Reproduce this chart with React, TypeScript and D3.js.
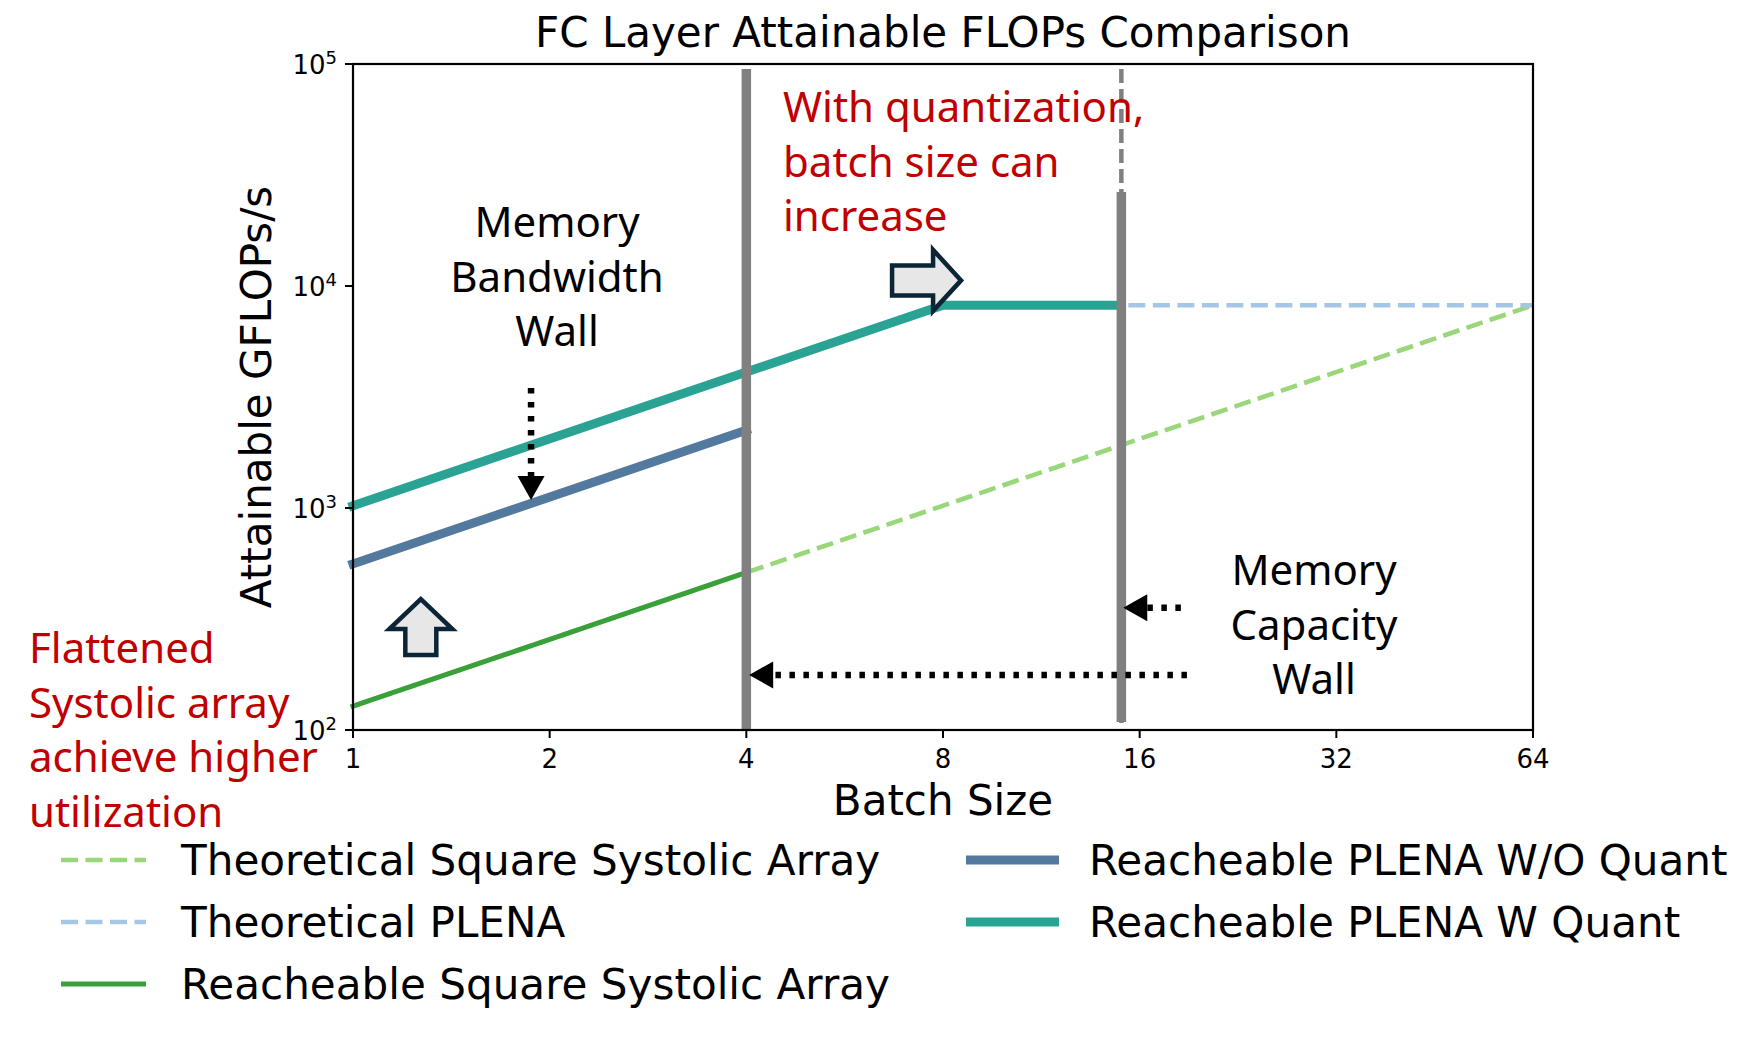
import * as d3 from 'd3';
import React, { useEffect, useRef } from 'react';

// axis ticks
const batchTicks = [1, 2, 4, 8, 16, 32, 64];
const flopTicks = [1e2, 1e3, 1e4, 1e5];

// series (batch size, attainable GFLOPs/s)
const theoSquareBatch = [1, 64];
const theoSquareFlops = [128, 8192];
const theoPlenaBatch = [1, 8, 64];
const theoPlenaFlops = [1024, 8192, 8192];
const reachSquareBatch = [1, 4];
const reachSquareFlops = [128, 512];
const plenaNoQuantBatch = [1, 4];
const plenaNoQuantFlops = [560, 2240];
const plenaQuantBatch = [1, 8, 15];
const plenaQuantFlops = [1024, 8192, 8192];

// memory walls
const wallBatch = [4, 15];
const wallSolidTop = [95000, 26500];
const wallDashedTop = [0, 95000];

// annotation arrows, data coords
const dottedArrows = [
  { from: [1.873, 3472], to: [1.873, 1087] },
  { from: [18.9, 177], to: [4.04, 177] },
  { from: [18.5, 355], to: [15.1, 355] },
];
const blockArrows = [
  { at: [7.55, 10600], dir: 'right' },
  { at: [1.27, 291], dir: 'up' },
];

const legendLabels = [
  'Theoretical Square Systolic Array',
  'Theoretical PLENA',
  'Reacheable Square Systolic Array',
  'Reacheable PLENA W/O Quant',
  'Reacheable PLENA W Quant',
];

const series = [
  { xs: theoSquareBatch, ys: theoSquareFlops, color: '#9ad67a', width: 4.6, dash: '17 7.5' },
  { xs: theoPlenaBatch, ys: theoPlenaFlops, color: '#a6c6e8', width: 4.6, dash: '17 7.5' },
  { xs: reachSquareBatch, ys: reachSquareFlops, color: '#3aa13a', width: 5, dash: null },
  { xs: plenaNoQuantBatch, ys: plenaNoQuantFlops, color: '#54799f', width: 9, dash: null },
  { xs: plenaQuantBatch, ys: plenaQuantFlops, color: '#2aa395', width: 9, dash: null },
];

const width = 1759;
const height = 1040;
const axisFont = '"DejaVu Sans", sans-serif';
const noteFont = '"Noto Sans", sans-serif';
const red = '#c00000';

export default function App() {
  const svgRef = useRef(null);

  useEffect(() => {
    const svg = d3.select(svgRef.current);
    svg.selectAll('*').remove();

    const left = 353, right = 1533, top = 64, bottom = 730;
    const x = d3.scaleLog().base(2).domain([1, 64]).range([left, right]);
    const y = d3.scaleLog().domain([1e2, 1e5]).range([bottom, top]);

    svg.append('rect').attr('width', width).attr('height', height).attr('fill', 'white');

    const plot = svg.append('g');
    const line = d3.line<number[]>().x(d => x(d[0])).y(d => y(d[1]));

    series.forEach(s => {
      plot.append('path')
        .attr('d', line(s.xs.map((v, i) => [v, s.ys[i]])))
        .attr('fill', 'none')
        .attr('stroke', s.color)
        .attr('stroke-width', s.width)
        .attr('stroke-dasharray', s.dash)
        .attr('stroke-linecap', s.dash ? 'butt' : 'square');
    });

    // walls
    wallBatch.forEach((b, i) => {
      if (wallDashedTop[i]) {
        plot.append('line')
          .attr('x1', x(b)).attr('x2', x(b))
          .attr('y1', y(wallDashedTop[i])).attr('y2', y(1e2))
          .attr('stroke', '#808080').attr('stroke-width', 4.5)
          .attr('stroke-dasharray', '14 6');
      }
      plot.append('line')
        .attr('x1', x(b)).attr('x2', x(b))
        .attr('y1', y(wallSolidTop[i])).attr('y2', i === 0 ? y(1e2) : y(1e2) - 8)
        .attr('stroke', '#808080').attr('stroke-width', 9.5);
    });

    // dotted arrows
    dottedArrows.forEach(a => {
      const x0 = x(a.from[0]), y0 = y(a.from[1]);
      const x1 = x(a.to[0]), y1 = y(a.to[1]);
      const ang = Math.atan2(y1 - y0, x1 - x0);
      const headLen = 24, headHalf = 13.5;
      const bx = x1 - headLen * Math.cos(ang), by = y1 - headLen * Math.sin(ang);
      plot.append('line')
        .attr('x1', x0).attr('y1', y0).attr('x2', bx).attr('y2', by)
        .attr('stroke', 'black').attr('stroke-width', 6.5)
        .attr('stroke-dasharray', '5.5 8.5');
      const px = -Math.sin(ang), py = Math.cos(ang);
      plot.append('path')
        .attr('d', `M${x1},${y1}L${bx + px * headHalf},${by + py * headHalf}L${bx - px * headHalf},${by - py * headHalf}Z`)
        .attr('fill', 'black');
    });

    // block arrows
    blockArrows.forEach(a => {
      const cx = x(a.at[0]), cy = y(a.at[1]);
      let pts: number[][];
      if (a.dir === 'right') {
        const L = 69, hl = 28, bh = 15, hh = 30.5;
        const x0 = cx - L / 2, xh = cx + L / 2 - hl, xt = cx + L / 2;
        pts = [[x0, cy - bh], [xh, cy - bh], [xh, cy - hh], [xt, cy], [xh, cy + hh], [xh, cy + bh], [x0, cy + bh]];
      } else {
        const L = 56, hl = 30, bw = 15.5, hw = 31.5;
        const y0 = cy + L / 2, yh = cy - L / 2 + hl, yt = cy - L / 2;
        pts = [[cx - bw, y0], [cx - bw, yh], [cx - hw, yh], [cx, yt], [cx + hw, yh], [cx + bw, yh], [cx + bw, y0]];
      }
      plot.append('path')
        .attr('d', 'M' + pts.map(p => p.join(',')).join('L') + 'Z')
        .attr('fill', '#e7e7e7')
        .attr('stroke', '#0c2536')
        .attr('stroke-width', 4.5)
        .attr('stroke-linejoin', 'miter');
    });

    // frame
    svg.append('rect')
      .attr('x', left).attr('y', top)
      .attr('width', right - left).attr('height', bottom - top)
      .attr('fill', 'none').attr('stroke', 'black').attr('stroke-width', 2.2);

    // x ticks
    const xAxis = svg.append('g').attr('font-family', axisFont);
    batchTicks.forEach(t => {
      xAxis.append('line')
        .attr('x1', x(t)).attr('x2', x(t)).attr('y1', bottom).attr('y2', bottom + 8)
        .attr('stroke', 'black').attr('stroke-width', 2);
      xAxis.append('text')
        .attr('x', x(t)).attr('y', bottom + 38)
        .attr('text-anchor', 'middle').attr('font-size', 26)
        .text(t);
    });

    // y ticks
    const yAxis = svg.append('g').attr('font-family', axisFont);
    flopTicks.forEach(t => {
      yAxis.append('line')
        .attr('x1', left - 8).attr('x2', left).attr('y1', y(t)).attr('y2', y(t))
        .attr('stroke', 'black').attr('stroke-width', 2);
      const txt = yAxis.append('text')
        .attr('x', left - 16).attr('y', y(t) + 9.5)
        .attr('text-anchor', 'end').attr('font-size', 26);
      txt.append('tspan').text('10');
      txt.append('tspan').attr('font-size', 18).attr('dy', -10).text(String(Math.round(Math.log10(t))));
    });

    svg.append('text')
      .attr('x', (left + right) / 2).attr('y', 47)
      .attr('text-anchor', 'middle').attr('font-family', axisFont).attr('font-size', 42)
      .text('FC Layer Attainable FLOPs Comparison');

    svg.append('text')
      .attr('x', (left + right) / 2).attr('y', 815)
      .attr('text-anchor', 'middle').attr('font-family', axisFont).attr('font-size', 42)
      .text('Batch Size');

    svg.append('text')
      .attr('transform', `translate(271,${(top + bottom) / 2}) rotate(-90)`)
      .attr('text-anchor', 'middle').attr('font-family', axisFont).attr('font-size', 42)
      .text('Attainable GFLOPs/s');

    // annotations
    const note = (lines: string[], px: number, py: number, anchor: string, color: string) => {
      const t = svg.append('text')
        .attr('font-family', noteFont).attr('font-size', 42)
        .attr('text-anchor', anchor).attr('fill', color);
      lines.forEach((l, i) => {
        t.append('tspan').attr('x', px).attr('y', py + i * 54.5).text(l);
      });
    };
    note(['Memory', 'Bandwidth', 'Wall'], 557, 237, 'middle', 'black');
    note(['Memory', 'Capacity', 'Wall'], 1314, 585, 'middle', 'black');
    note(['With quantization,', 'batch size can', 'increase'], 783, 122, 'start', red);
    note(['Flattened', 'Systolic array', 'achieve higher', 'utilization'], 29, 663, 'start', red);

    // legend
    const legend = svg.append('g').attr('font-family', axisFont).attr('font-size', 42.1);
    const cols = [
      { hx0: 61, hx1: 146, tx: 181 },
      { hx0: 966, hx1: 1059, tx: 1089 },
    ];
    series.forEach((s, i) => {
      const col = cols[i < 3 ? 0 : 1];
      const row = i < 3 ? i : i - 3;
      const cy = 860 + row * 62;
      legend.append('line')
        .attr('x1', col.hx0).attr('x2', col.hx1).attr('y1', cy).attr('y2', cy)
        .attr('stroke', s.color).attr('stroke-width', s.width)
        .attr('stroke-dasharray', s.dash ? '17 7.5' : null);
      legend.append('text')
        .attr('x', col.tx).attr('y', cy + 15)
        .text(legendLabels[i]);
    });
  }, []);

  return (
    <svg ref={svgRef} width={width} height={height}
      style={{ position: 'absolute', left: 0, top: 0 }} />
  );
}
